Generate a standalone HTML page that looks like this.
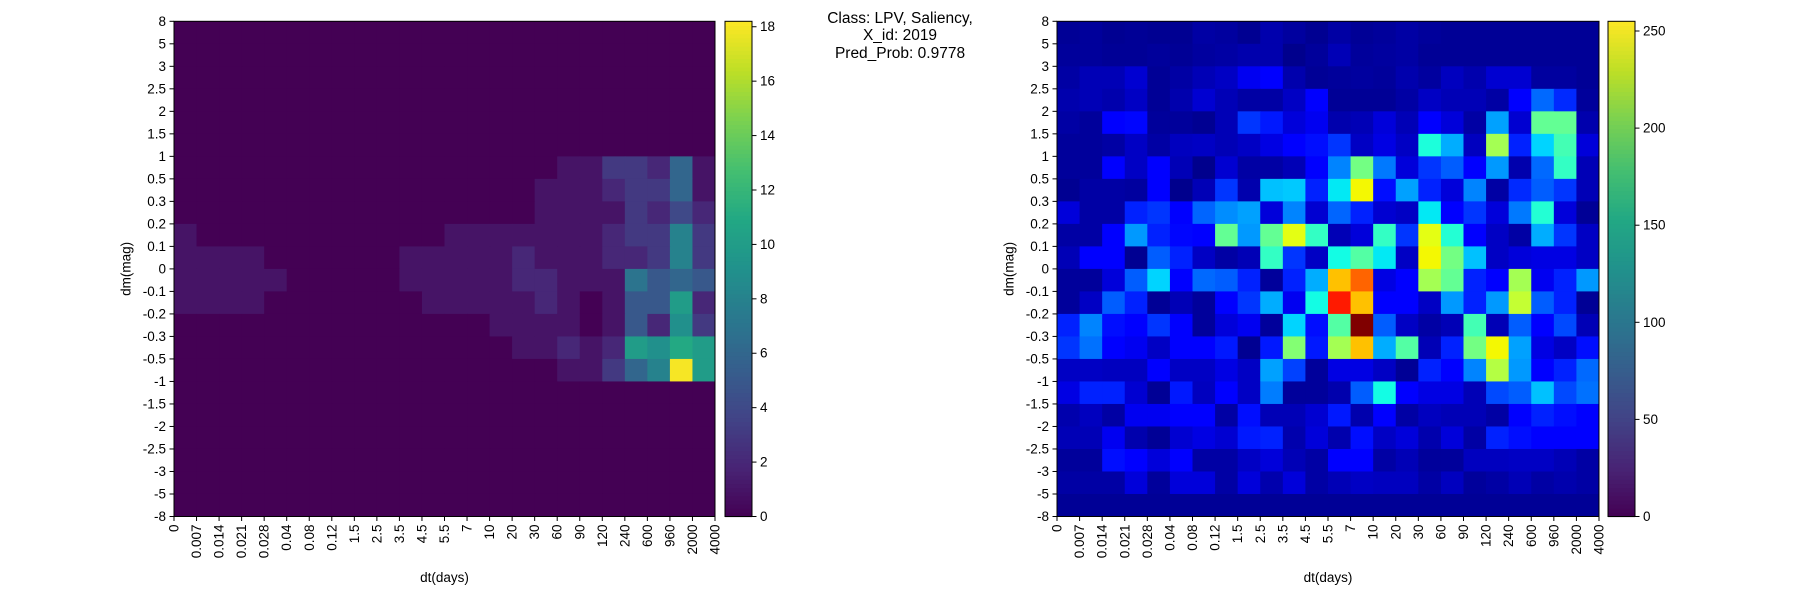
<!DOCTYPE html>
<html><head><meta charset="utf-8"><style>
body{margin:0;background:#fff;}
svg{display:block;font-family:"Liberation Sans","DejaVu Sans",sans-serif;}
</style></head><body>
<svg id="fig" width="1800" height="600" viewBox="0 0 1800 600" xmlns="http://www.w3.org/2000/svg">
<text x="900" y="23" font-size="15.5" text-anchor="middle">Class: LPV, Saliency,</text>
<text x="900" y="40" font-size="15.5" text-anchor="middle">X_id: 2019</text>
<text x="900" y="58" font-size="15.5" text-anchor="middle">Pred_Prob: 0.9778</text>
</svg>
<script>
const xLabels=["0","0.007","0.014","0.021","0.028","0.04","0.08","0.12","1.5","2.5","3.5","4.5","5.5","7","10","20","30","60","90","120","240","600","960","2000","4000"];
const yLabels=["8","5","3","2.5","2","1.5","1","0.5","0.3","0.2","0.1","0","-0.1","-0.2","-0.3","-0.5","-1","-1.5","-2","-2.5","-3","-5","-8"];
const leftTicks=[0,2,4,6,8,10,12,14,16,18];
const rightTicks=[0,50,100,150,200,250];
const leftMax=18.2;
const rightMax=255;
const leftValues=[
[0,0,0,0,0,0,0,0,0,0,0,0,0,0,0,0,0,0,0,0,0,0,0,0],
[0,0,0,0,0,0,0,0,0,0,0,0,0,0,0,0,0,0,0,0,0,0,0,0],
[0,0,0,0,0,0,0,0,0,0,0,0,0,0,0,0,0,0,0,0,0,0,0,0],
[0,0,0,0,0,0,0,0,0,0,0,0,0,0,0,0,0,0,0,0,0,0,0,0],
[0,0,0,0,0,0,0,0,0,0,0,0,0,0,0,0,0,0,0,0,0,0,0,0],
[0,0,0,0,0,0,0,0,0,0,0,0,0,0,0,0,0,0,0,0,0,0,0,0],
[0,0,0,0,0,0,0,0,0,0,0,0,0,0,0,0,0,1,1,3,3,2,6,1],
[0,0,0,0,0,0,0,0,0,0,0,0,0,0,0,0,1,1,1,2,3,3,6,1],
[0,0,0,0,0,0,0,0,0,0,0,0,0,0,0,0,1,1,1,1,3,2,4,2],
[1,0,0,0,0,0,0,0,0,0,0,0,1,1,1,1,1,1,1,2,3,3,8,3],
[1,1,1,1,0,0,0,0,0,0,1,1,1,1,1,2,1,1,1,2,2,3,8,3],
[1,1,1,1,1,0,0,0,0,0,1,1,1,1,1,2,2,1,1,1,7,5,6,5],
[1,1,1,1,0,0,0,0,0,0,0,1,1,1,1,1,2,1,0,1,5,5,10,2],
[0,0,0,0,0,0,0,0,0,0,0,0,0,0,1,1,1,1,0,1,5,2,9,3],
[0,0,0,0,0,0,0,0,0,0,0,0,0,0,0,1,1,2,1,2,10,9,11,10],
[0,0,0,0,0,0,0,0,0,0,0,0,0,0,0,0,0,1,1,3,6,8,18,10],
[0,0,0,0,0,0,0,0,0,0,0,0,0,0,0,0,0,0,0,0,0,0,0,0],
[0,0,0,0,0,0,0,0,0,0,0,0,0,0,0,0,0,0,0,0,0,0,0,0],
[0,0,0,0,0,0,0,0,0,0,0,0,0,0,0,0,0,0,0,0,0,0,0,0],
[0,0,0,0,0,0,0,0,0,0,0,0,0,0,0,0,0,0,0,0,0,0,0,0],
[0,0,0,0,0,0,0,0,0,0,0,0,0,0,0,0,0,0,0,0,0,0,0,0],
[0,0,0,0,0,0,0,0,0,0,0,0,0,0,0,0,0,0,0,0,0,0,0,0]];
const rightValues=[
[5,6,4,5,4,4,8,7,4,10,7,4,8,5,6,8,6,5,5,5,5,5,5,5],
[6,6,5,5,6,5,7,8,10,10,3,6,12,6,7,8,5,5,5,5,5,5,5,5],
[8,12,12,18,5,8,12,15,25,28,10,5,6,7,6,10,7,14,10,18,18,7,7,5],
[10,12,10,15,5,10,18,12,8,8,15,30,5,5,5,8,15,12,12,8,32,58,42,6],
[8,6,28,33,6,6,4,12,45,38,20,25,10,12,20,12,32,20,8,72,18,120,120,10],
[6,6,8,15,8,14,15,12,15,22,30,35,45,15,22,15,98,75,14,140,40,85,110,20],
[6,6,32,15,30,12,3,18,8,8,12,30,65,125,62,20,45,55,30,70,10,58,105,12],
[4,8,8,7,30,3,12,45,10,80,82,40,90,165,35,72,40,20,65,8,42,55,45,12],
[20,8,8,40,45,30,57,67,72,20,65,18,57,40,18,15,90,32,45,20,62,100,20,5],
[8,8,30,70,40,33,32,120,70,120,160,105,12,20,105,45,160,100,30,15,8,75,45,15],
[12,30,30,4,55,40,15,8,12,105,45,15,95,115,90,15,165,125,80,15,20,22,22,15],
[6,6,20,55,85,30,58,55,40,6,40,75,180,205,22,30,140,120,40,30,140,25,40,70],
[6,15,55,40,5,12,6,30,45,75,25,95,225,180,28,30,15,70,40,70,150,55,40,5],
[40,65,35,32,45,30,6,20,25,6,85,35,115,255,55,15,8,12,110,12,55,30,50,12],
[45,60,30,25,15,30,30,38,4,38,130,38,140,180,75,115,12,40,125,165,72,22,15,35],
[15,15,14,14,30,15,15,22,15,72,48,6,22,22,15,5,40,30,65,145,70,28,40,58],
[22,40,40,18,5,38,14,30,15,63,6,6,10,55,95,30,22,22,12,50,55,80,50,60],
[10,14,8,25,25,30,28,8,35,12,12,18,38,10,30,8,14,12,12,8,30,40,35,32],
[12,12,25,10,5,18,22,18,38,40,10,20,10,35,15,20,10,20,8,40,35,32,28,30],
[6,6,35,28,20,32,8,8,15,20,12,8,30,30,8,12,6,6,14,14,15,15,12,8],
[8,8,8,20,6,20,20,8,20,10,20,8,12,15,14,14,8,14,6,8,12,8,10,8],
[5,5,5,5,5,5,5,5,5,5,5,5,5,5,5,5,5,5,5,5,5,5,5,5]];

const NS="http://www.w3.org/2000/svg";
const svg=document.getElementById('fig');
function mk(tag,attrs,parent){const e=document.createElementNS(NS,tag);for(const k in attrs)e.setAttribute(k,attrs[k]);(parent||svg).appendChild(e);return e;}
function lerp(a,b,t){return a+(b-a)*t;}
const viridisStops=[[68,1,84],[72,36,117],[65,68,135],[53,95,141],[42,120,142],[33,145,140],[34,168,132],[68,191,112],[122,209,81],[189,223,38],[253,231,37]];
function viridis(t){t=Math.max(0,Math.min(1,t));const p=t*(viridisStops.length-1);const i=Math.min(Math.floor(p),viridisStops.length-2);const f=p-i;const a=viridisStops[i],b=viridisStops[i+1];return `rgb(${Math.round(lerp(a[0],b[0],f))},${Math.round(lerp(a[1],b[1],f))},${Math.round(lerp(a[2],b[2],f))})`;}
function seg(x,pts){for(let i=0;i<pts.length-1;i++){if(x<=pts[i+1][0]){const f=(x-pts[i][0])/(pts[i+1][0]-pts[i][0]);return lerp(pts[i][1],pts[i+1][1],f);}}return pts[pts.length-1][1];}
function jet(t){t=Math.max(0,Math.min(1,t));
const r=seg(t,[[0,0],[0.35,0],[0.66,1],[0.89,1],[1,0.5]]);
const g=seg(t,[[0,0],[0.125,0],[0.375,1],[0.64,1],[0.91,0],[1,0]]);
const b=seg(t,[[0,0.5],[0.11,1],[0.34,1],[0.65,0],[1,0]]);
return `rgb(${Math.round(r*255)},${Math.round(g*255)},${Math.round(b*255)})`;}

const nCols=xLabels.length-1, nRows=yLabels.length-1;
const axTop=21.3, axBottom=516.5;
function drawPanel(px,pw,values,vmax,cmap,cbmap,cbx,ticks,prefix){
  const g=mk('g',{});
  
  
  const cw=pw/nCols, ch=(axBottom-axTop)/nRows;
  const xs=c=>px+c*cw, ys=r=>axTop+r*ch;
  for(let r=0;r<nRows;r++)for(let c=0;c<nCols;c++){
    const rect=mk('rect',{x:xs(c),y:ys(r),width:cw+0.5,height:ch+0.5,fill:cmap(values[r][c]/vmax)},g);
    
    
  }
  const frame=mk('rect',{x:px,y:axTop,width:pw,height:axBottom-axTop,fill:'none',stroke:'#000','stroke-width':1});
  
  
  xLabels.forEach((lb,i)=>{
    const x=xs(i);
    mk('line',{x1:x,y1:axBottom,x2:x,y2:axBottom+4.5,stroke:'#000','stroke-width':1});
    const t=mk('text',{x:0,y:0,'font-size':13.5,'text-anchor':'end','dominant-baseline':'central',transform:`translate(${x},${axBottom+8}) rotate(-90)`});
    t.textContent=lb;
    
    
  });
  yLabels.forEach((lb,i)=>{
    const y=ys(i);
    mk('line',{x1:px-4.5,y1:y,x2:px,y2:y,stroke:'#000','stroke-width':1});
    const t=mk('text',{x:px-8,y:y,'font-size':13.5,'text-anchor':'end','dominant-baseline':'central'});
    t.textContent=lb;
    
    
  });
  const xl=mk('text',{x:px+pw/2,y:582,'font-size':13.5,'text-anchor':'middle'});
  xl.textContent='dt(days)';
  
  
  const yl=mk('text',{x:0,y:0,'font-size':13.5,'text-anchor':'middle','dominant-baseline':'central',transform:`translate(${px-48},${(axTop+axBottom)/2}) rotate(-90)`});
  yl.textContent='dm(mag)';
  
  
  const cbw=27, n=120, hh=(axBottom-axTop)/n;
  const cb=mk('g',{});
  
  
  for(let i=0;i<n;i++){mk('rect',{x:cbx,y:axBottom-(i+1)*hh,width:cbw,height:hh+0.6,fill:cbmap((i+0.5)/n)},cb);}
  mk('rect',{x:cbx,y:axTop,width:cbw,height:axBottom-axTop,fill:'none',stroke:'#000','stroke-width':1},cb);
  ticks.forEach(v=>{
    const y=axBottom-(v/vmax)*(axBottom-axTop);
    mk('line',{x1:cbx+cbw,y1:y,x2:cbx+cbw+4.5,y2:y,stroke:'#000','stroke-width':1},cb);
    const t=mk('text',{x:cbx+cbw+8,y:y,'font-size':13.5,'dominant-baseline':'central'},cb);
    t.textContent=v;
    
    
  });
}
drawPanel(174,541,leftValues,leftMax,viridis,viridis,725,leftTicks,'left');
drawPanel(1057,542,rightValues,rightMax,jet,viridis,1608,rightTicks,'right');
</script>
</body></html>
